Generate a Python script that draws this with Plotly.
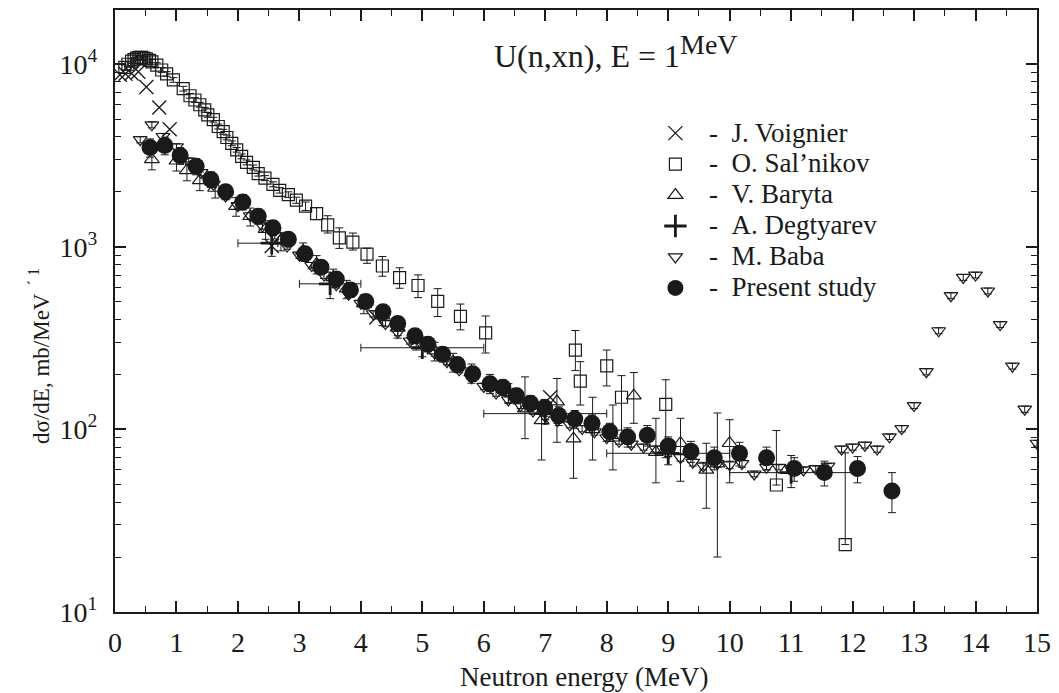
import plotly.graph_objects as go

# ---------------- data ----------------
voig_x = [0.08, 0.17, 0.27, 0.38, 0.51, 0.72, 0.89, 2.55, 4.25, 7.08]
voig_y = [8750, 8870, 8900, 9100, 7500, 5790, 4400, 1010, 410, 150]

sal_x = [0.16, 0.21, 0.27, 0.31, 0.35, 0.39, 0.43, 0.47, 0.51, 0.56, 0.6, 0.68, 0.76, 0.84, 0.95,
         1.11, 1.22, 1.3, 1.38, 1.46, 1.51, 1.6, 1.68, 1.76, 1.82, 1.9, 1.98, 2.06, 2.14, 2.25,
         2.33, 2.44, 2.57, 2.68, 2.82, 2.95, 3.1, 3.28, 3.46, 3.65, 3.87, 4.1, 4.35, 4.63, 4.93,
         5.25, 5.62, 6.03, 7.49, 7.57, 8.0, 8.24, 8.96, 10.76, 11.88]
sal_y = [9600, 10000, 10400, 10600, 10800, 10900, 10900, 10800, 10700, 10500, 10300, 9900, 9300, 8850, 8200,
         7350, 6720, 6370, 6000, 5630, 5280, 4970, 4560, 4270, 3970, 3690, 3400, 3130, 2900, 2720,
         2520, 2380, 2200, 2040, 1930, 1800, 1670, 1520, 1320, 1120, 1060, 912, 785, 678, 614,
         502, 416, 338, 272, 184, 223, 150, 137, 49.6, 23.4]
sal_ep = [300, 300, 300, 300, 300, 300, 300, 300, 300, 300, 300, 300, 280, 260, 240,
          220, 200, 190, 180, 170, 160, 150, 140, 130, 120, 110, 100, 95, 90, 85,
          80, 75, 70, 70, 70, 70, 90, 120, 160, 150, 130, 70, 100, 90, 88,
          88, 70, 80, 76, 51, 49, 47, 50, 49, 51]
sal_em = [300, 300, 300, 300, 300, 300, 300, 300, 300, 300, 300, 300, 280, 260, 240,
          220, 200, 190, 180, 170, 160, 150, 140, 130, 120, 110, 100, 95, 90, 85,
          80, 75, 70, 70, 70, 70, 90, 110, 130, 140, 100, 100, 95, 85, 87,
          87, 65, 76, 62, 48, 50, 51, 67, 0, 0]

bar_x = [0.6, 1.0, 1.17, 1.38, 1.63, 1.97, 2.2, 2.45, 2.7, 3.06, 3.28, 3.55, 3.77, 4.05, 4.35,
         4.6, 4.9, 5.2, 5.5, 5.8, 6.1, 6.4, 6.67, 6.94, 7.19, 7.46, 7.77, 8.1, 8.44, 8.8,
         9.2, 9.62, 9.8, 10.0]
bar_y = [3010, 2960, 2620, 2310, 2100, 1670, 1470, 1250, 1080, 950, 805, 680, 590, 490, 420,
         360, 310, 270, 235, 205, 180, 160, 130, 112, 142, 89, 100, 90, 153, 75,
         84, 60, 65, 84]
bar_ep = [350, 340, 300, 260, 230, 190, 160, 140, 120, 100, 90, 75, 65, 55, 46,
          40, 34, 30, 26, 23, 20, 18, 64, 22, 48, 28, 50, 46, 52, 40,
          31, 24, 58, 29]
bar_em = [370, 360, 320, 280, 250, 200, 170, 150, 130, 110, 95, 80, 70, 60, 50,
          44, 38, 33, 29, 26, 23, 20, 41, 44, 57, 35, 32, 30, 45, 24,
          32, 23, 45, 33]

deg_x = [2.55, 3.5, 5.0, 7.0, 9.0, 11.0]
deg_y = [1047, 627, 280, 122, 74, 58]
deg_xp = [0.1, 0.5, 1.0, 1.0, 1.0, 1.05]
deg_xm = [0.55, 0.5, 1.0, 1.0, 1.0, 1.0]
deg_yp = [130, 63, 30, 15, 10, 14]
deg_ym = [160, 107, 30, 15, 10, 10]

baba_x = [0.41, 0.6, 0.78, 1.0, 1.2, 1.4, 1.6, 1.8, 2.0, 2.2, 2.4, 2.6, 2.8, 3.0, 3.2, 3.4, 3.6, 3.8,
          4.0, 4.2, 4.4, 4.6, 4.8, 5.0, 5.2, 5.4, 5.6, 5.8, 6.0, 6.2, 6.4, 6.6, 6.8, 7.0, 7.2, 7.4,
          7.6, 7.8, 8.0, 8.2, 8.4, 8.6, 8.8, 9.0, 9.2, 9.4, 9.57, 9.8, 10.0, 10.2, 10.4, 10.6, 10.8,
          11.0, 11.2, 11.4, 11.6, 11.82, 12.0, 12.2, 12.4, 12.6, 12.8, 13.0, 13.2, 13.4, 13.6, 13.8,
          14.0, 14.2, 14.4, 14.6, 14.8, 15.0]
baba_y = [3860, 4660, 4020, 3530, 2950, 2550, 2200, 1900, 1680, 1480, 1300, 1150, 1010, 900, 790, 700, 620, 550,
          490, 430, 380, 340, 305, 290, 262, 235, 212, 192, 172, 158, 145, 135, 126, 118, 112, 106,
          101, 97, 90, 86, 83, 80, 78, 74, 70, 66, 63, 65, 64, 65, 57, 62, 62,
          61, 60, 61, 63, 78, 80, 82, 78, 91, 101, 135, 207, 347, 540, 680,
          700, 573, 375, 222, 129, 84]
baba_e = [150, 180, 160, 140, 120, 100, 90, 76, 67, 59, 52, 46, 40, 36, 32, 28, 25, 22,
          20, 17, 15, 14, 12, 12, 10, 9, 8, 8, 7, 6, 6, 5, 5, 5, 4, 4,
          4, 4, 4, 3, 3, 3, 3, 3, 3, 3, 3, 3, 3, 3, 2, 2, 2,
          2, 2, 2, 2, 3, 3, 3, 3, 3, 4, 5, 8, 13, 20, 25,
          25, 21, 14, 8, 5, 3]

pres_x = [0.57, 0.81, 1.06, 1.32, 1.56, 1.8, 2.08, 2.33, 2.57, 2.82, 3.09, 3.35, 3.6, 3.83, 4.08,
          4.36, 4.6, 4.88, 5.09, 5.33, 5.57, 5.82, 6.1, 6.31, 6.53, 6.76, 6.99, 7.22, 7.48, 7.76,
          8.05, 8.34, 8.66, 9.0, 9.37, 9.75, 10.16, 10.6, 11.05, 11.54, 12.08, 12.64]
pres_y = [3500, 3590, 3160, 2760, 2340, 2000, 1760, 1470, 1270, 1100, 917, 774, 667, 581, 502,
          441, 380, 326, 293, 258, 227, 202, 178, 170, 153, 139, 132, 119, 114, 108,
          97, 91, 93, 81, 76, 70, 74, 70, 61, 58, 61, 46]
pres_ep = [400, 400, 330, 280, 230, 190, 170, 140, 120, 100, 85, 70, 60, 52, 45,
           40, 34, 30, 27, 24, 21, 19, 17, 16, 15, 14, 14, 14, 13, 12,
           11, 11, 12, 10, 10, 10, 11, 10, 9, 9, 10, 12]
pres_em = [400, 400, 330, 280, 230, 190, 170, 140, 120, 100, 85, 70, 60, 52, 45,
           40, 34, 30, 27, 24, 21, 19, 17, 16, 15, 14, 14, 14, 13, 12,
           11, 11, 12, 10, 10, 10, 11, 10, 9, 9, 10, 11]

names = ["J. Voignier", "O. Sal\u2019nikov", "V. Baryta", "A. Degtyarev", "M. Baba", "Present study"]
ytick_vals = [10, 100, 1000, 10000]
ytick_text = ["10<sup>1</sup>", "10<sup>2</sup>", "10<sup>3</sup>", "10<sup>4</sup>"]
xtick_vals = list(range(0, 16))

# ---------------- figure ----------------
INK = "#1a1a1a"
FONT = "Liberation Serif"


def legend_label(nm):
    return "<span style='font-size:27px'>\u00a0\u00a0-\u00a0\u00a0" + nm + "</span>"


def ebar(plus, minus):
    return dict(type="data", symmetric=False, array=plus, arrayminus=minus,
                color=INK, thickness=1, width=4)


fig = go.Figure()
fig.add_trace(go.Scatter(
    x=sal_x, y=sal_y, mode="markers", name=legend_label(names[1]), legendrank=2,
    marker=dict(symbol="square-open", size=12, color=INK, line=dict(width=1.2, color=INK)),
    error_y=ebar(sal_ep, sal_em)))
fig.add_trace(go.Scatter(
    x=bar_x, y=bar_y, mode="markers", name=legend_label(names[2]), legendrank=3,
    marker=dict(symbol="triangle-up-open", size=13, color=INK, line=dict(width=1.2, color=INK)),
    error_y=ebar(bar_ep, bar_em)))
fig.add_trace(go.Scatter(
    x=baba_x, y=baba_y, mode="markers", name=legend_label(names[4]), legendrank=5,
    marker=dict(symbol="triangle-down-open", size=12, color=INK, line=dict(width=1.2, color=INK)),
    error_y=ebar(baba_e, baba_e)))
fig.add_trace(go.Scatter(
    x=deg_x, y=deg_y, mode="markers", name=legend_label(names[3]), legendrank=4,
    marker=dict(symbol="cross-thin-open", size=16, color=INK, line=dict(width=2.8, color=INK)),
    error_y=ebar(deg_yp, deg_ym),
    error_x=dict(type="data", symmetric=False, array=deg_xp, arrayminus=deg_xm,
                 color=INK, thickness=1, width=4)))
fig.add_trace(go.Scatter(
    x=pres_x, y=pres_y, mode="markers", name=legend_label(names[5]), legendrank=6,
    marker=dict(symbol="circle", size=17, color=INK, line=dict(width=0)),
    error_y=ebar(pres_ep, pres_em)))
fig.add_trace(go.Scatter(
    x=voig_x, y=voig_y, mode="markers", name=legend_label(names[0]), legendrank=1,
    marker=dict(symbol="x-thin-open", size=14, color=INK, line=dict(width=1.3, color=INK))))

axis_common = dict(
    showline=True, linecolor=INK, linewidth=2, mirror="ticks",
    ticks="inside", ticklen=11, tickwidth=1.5, tickcolor=INK,
    showgrid=False, zeroline=False,
    tickfont=dict(family=FONT, size=28, color=INK),
)

fig.update_xaxes(
    range=[0, 15], tickmode="array", tickvals=xtick_vals, ticklabelstandoff=4,
    minor=dict(ticks="inside", ticklen=6, tickwidth=1.2, tickcolor=INK, dtick=0.5, showgrid=False),
    **axis_common)
fig.update_yaxes(
    type="log", range=[1, 4.297], tickmode="array", tickvals=ytick_vals, ticktext=ytick_text,
    ticklabelstandoff=10,
    minor=dict(ticks="inside", ticklen=6, tickwidth=1.2, tickcolor=INK, dtick="D1", showgrid=False),
    **axis_common)


def py(pix):
    """pixel row -> paper y"""
    return 1 - (pix - 8) / 604


def px(pix):
    """pixel column -> paper x"""
    return (pix - 115) / 923


annotations = [
    dict(text="U(n,xn), E = 1<sup><span style='font-size:28px'>MeV</span></sup>",
         xref="paper", yref="paper", x=px(492), y=py(50), xanchor="left", yanchor="middle",
         showarrow=False, font=dict(family=FONT, size=32, color=INK)),
    dict(text="Neutron energy (MeV)", xref="paper", yref="paper",
         x=px(585), y=py(677), xanchor="center", yanchor="middle",
         showarrow=False, font=dict(family=FONT, size=27, color=INK)),
    dict(text="d\u03c3/dE, mb/MeV<sup>\u00a0\u00a0\u00b4 1</sup>", xref="paper", yref="paper",
         x=px(40), y=py(355), xanchor="center", yanchor="middle",
         textangle=-90, showarrow=False, font=dict(family=FONT, size=23, color=INK)),
]

fig.update_layout(
    width=1059, height=693,
    margin=dict(l=115, r=21, t=8, b=81),
    plot_bgcolor="white", paper_bgcolor="white",
    font=dict(family=FONT, color=INK),
    showlegend=True,
    legend=dict(x=px(656), y=py(111), xanchor="left", yanchor="top",
                bgcolor="rgba(0,0,0,0)", borderwidth=0,
                font=dict(family=FONT, size=21.5, color=INK),
                itemsizing="trace", traceorder="normal"),
    annotations=annotations,
)

fig.write_html("out.html")
